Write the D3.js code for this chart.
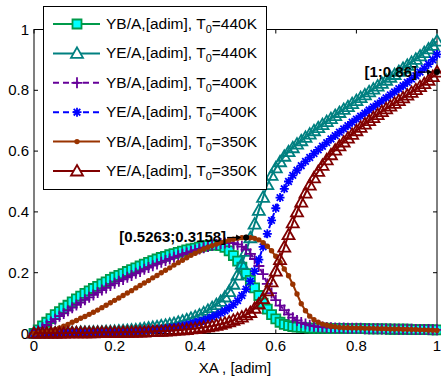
<!DOCTYPE html>
<html>
<head>
<meta charset="utf-8">
<title>YB / YE vs XA</title>
<script src="https://cdn.jsdelivr.net/npm/d3@7"></script>
<style>
  body { margin: 0; background: #fff; }
  text { font-family: "Liberation Sans", Arial, sans-serif; }
</style>
</head>
<body>
<script>
// conversion grid, 96 samples from 0 to 1
var xa = d3.range(96).map(function(i) { return i / 95; });

var ybA440 = [0,.012,.025,.037,.049,.062,.072,.083,.093,.104,.114,.123,.132,.140,.148,.155,.163,.170,.178,.185,
  .191,.197,.204,.210,.216,.222,.228,.234,.240,.245,.250,.254,.259,.263,.267,.271,.275,.278,.281,.284,
  .287,.289,.291,.291,.289,.283,.272,.256,.238,.218,.197,.175,.150,.125,.100,.080,.062,.048,.037,.030,
  .026,.023,.021,.020,.019,.018,.018,.018,.018,.018,.017,.017,.017,.017,.016,.016,.016,.016,.016,.015,
  .015,.015,.015,.015,.014,.014,.014,.014,.014,.013,.013,.013,.013,.013,.012,.012];

var yeA440 = [.002,.002,.002,.002,.002,.002,.003,.003,.003,.003,.003,.004,.004,.004,.005,.005,.005,.006,.006,.007,
  .008,.009,.010,.011,.012,.014,.016,.018,.020,.022,.025,.027,.030,.033,.037,.041,.045,.050,.055,.061,
  .068,.076,.085,.095,.106,.120,.138,.162,.192,.228,.270,.315,.360,.405,.448,.490,.520,.545,.565,.583,
  .598,.611,.623,.634,.645,.656,.667,.677,.687,.697,.707,.717,.727,.737,.746,.756,.766,.776,.785,.795,
  .804,.814,.823,.833,.843,.852,.862,.872,.882,.892,.902,.913,.924,.936,.948,.962];

var ybA400 = [0,.009,.019,.028,.038,.047,.057,.066,.075,.085,.094,.102,.111,.119,.127,.135,.143,.150,.158,.165,
  .172,.178,.185,.191,.198,.204,.211,.217,.223,.229,.234,.240,.245,.251,.256,.261,.265,.270,.274,.278,
  .282,.286,.290,.293,.296,.298,.299,.297,.293,.286,.276,.262,.245,.222,.195,.163,.133,.110,.092,.077,
  .063,.052,.043,.036,.031,.027,.024,.022,.021,.020,.019,.018,.018,.018,.017,.017,.017,.017,.016,.016,
  .016,.016,.015,.015,.015,.015,.014,.014,.014,.014,.013,.013,.013,.013,.012,.012];

var yeA400 = [.001,.001,.001,.001,.001,.001,.001,.002,.002,.002,.002,.002,.003,.003,.003,.003,.004,.004,.004,.005,
  .005,.006,.006,.007,.008,.009,.010,.011,.012,.013,.014,.016,.018,.020,.022,.025,.028,.031,.035,.039,
  .043,.048,.054,.060,.067,.075,.084,.095,.108,.125,.146,.172,.205,.243,.285,.328,.372,.412,.447,.476,
  .500,.520,.537,.552,.566,.579,.592,.604,.616,.628,.640,.651,.662,.673,.684,.695,.705,.715,.725,.735,
  .745,.755,.765,.775,.785,.795,.805,.815,.826,.837,.848,.860,.872,.886,.900,.918];

var ybA350 = [0,.002,.004,.007,.010,.013,.018,.024,.030,.037,.043,.050,.056,.063,.070,.077,.085,.093,.101,.109,
  .117,.125,.133,.141,.150,.158,.166,.174,.183,.191,.200,.208,.216,.225,.233,.241,.249,.257,.264,.271,
  .278,.284,.289,.294,.299,.303,.307,.310,.313,.315,.3158,.315,.313,.308,.299,.287,.272,.254,.234,.212,
  .190,.162,.130,.098,.075,.057,.045,.037,.031,.027,.024,.022,.020,.019,.019,.018,.018,.018,.017,.017,
  .017,.016,.016,.016,.015,.015,.015,.014,.014,.013,.013,.012,.012,.011,.011,.010];

var yeA350 = [.001,.001,.001,.001,.001,.001,.001,.001,.002,.002,.002,.002,.002,.002,.002,.003,.003,.003,.003,.003,
  .003,.004,.004,.004,.005,.005,.005,.006,.006,.007,.007,.008,.009,.010,.011,.012,.013,.015,.016,.018,
  .020,.022,.024,.027,.030,.034,.038,.043,.048,.054,.061,.069,.083,.097,.115,.140,.170,.205,.243,.284,
  .325,.364,.400,.432,.462,.488,.512,.533,.553,.571,.588,.603,.617,.630,.643,.655,.667,.678,.689,.700,
  .710,.720,.730,.739,.748,.757,.766,.775,.784,.793,.802,.812,.822,.833,.845,.860];

var seriesNames = ["YB/A,[adim], T", "YE/A,[adim], T", "YB/A,[adim], T", "YE/A,[adim], T", "YB/A,[adim], T", "YE/A,[adim], T"];
var seriesTemps = ["=440K", "=440K", "=400K", "=400K", "=350K", "=350K"];
var xTicks = [0, 0.2, 0.4, 0.6, 0.8, 1];
var yTicks = [0, 0.2, 0.4, 0.6, 0.8, 1];
var tickLabels = ["0", "0.2", "0.4", "0.6", "0.8", "1"];
var tipX = [0.5263, 1];
var tipY = [0.3158, 0.86];
var tipLabels = ["[0.5263;0.3158]", "[1;0.86]"];

var width = 441, height = 380;
var svg = d3.select('body').append('svg')
    .attr('width', width)
    .attr('height', height)
    .style('background', '#fff');

var x = d3.scaleLinear().domain([0, 1]).range([34, 437]);
var y = d3.scaleLinear().domain([0, 1]).range([333.5, 29.5]);

// style per series
var styles = [
    { data: ybA440, color: '#009a4a', dash: null,  marker: 'square',   fill: '#00ffff' },
    { data: yeA440, color: '#008080', dash: null,  marker: 'triangle', fill: 'none' },
    { data: ybA400, color: '#660099', dash: '6,4', marker: 'plus',     fill: 'none' },
    { data: yeA400, color: '#0000ff', dash: '6,4', marker: 'star',     fill: 'none' },
    { data: ybA350, color: '#993300', dash: null,  marker: 'dot',      fill: '#993300' },
    { data: yeA350, color: '#800000', dash: null,  marker: 'triangle', fill: 'none' }
];

function markerPath(type) {
    if (type === 'square') return 'M-4.5,-4.5H4.5V4.5H-4.5Z';
    if (type === 'triangle') return 'M0,-6L6,4.5L-6,4.5Z';
    if (type === 'plus') return 'M-5.5,0H5.5M0,-5.5V5.5';
    if (type === 'star') return 'M-4.5,0H4.5M0,-4.5V4.5M-3.3,-3.3L3.3,3.3M-3.3,3.3L3.3,-3.3';
    return 'M-2.7,0A2.7,2.7 0 1,0 2.7,0A2.7,2.7 0 1,0 -2.7,0Z';
}

// frame
svg.append('rect')
    .attr('x', 34).attr('y', 29.5)
    .attr('width', 403).attr('height', 304)
    .attr('fill', 'none').attr('stroke', '#000').attr('stroke-width', 1);

// inward ticks on all sides
var tickG = svg.append('g').attr('stroke', '#000').attr('stroke-width', 1);
xTicks.forEach(function(t) {
    tickG.append('line').attr('x1', x(t)).attr('x2', x(t)).attr('y1', 333.5).attr('y2', 329.5);
    tickG.append('line').attr('x1', x(t)).attr('x2', x(t)).attr('y1', 29.5).attr('y2', 33.5);
});
yTicks.forEach(function(t) {
    tickG.append('line').attr('x1', 34).attr('x2', 38).attr('y1', y(t)).attr('y2', y(t));
    tickG.append('line').attr('x1', 437).attr('x2', 433).attr('y1', y(t)).attr('y2', y(t));
});

svg.append('g').selectAll('text').data(xTicks).enter().append('text')
    .attr('x', function(d) { return x(d); })
    .attr('y', 351)
    .attr('text-anchor', 'middle')
    .style('font-size', '15px')
    .text(function(d, i) { return tickLabels[i]; });

svg.append('g').selectAll('text').data(yTicks).enter().append('text')
    .attr('x', 29)
    .attr('y', function(d) { return y(d) + 5; })
    .attr('text-anchor', 'end')
    .style('font-size', '15px')
    .text(function(d, i) { return tickLabels[i]; });

svg.append('text')
    .attr('x', 235).attr('y', 373)
    .attr('text-anchor', 'middle')
    .style('font-size', '15px')
    .text('XA , [adim]');

// series
var line = d3.line()
    .x(function(d, i) { return x(xa[i]); })
    .y(function(d) { return y(d); });

styles.forEach(function(s) {
    var g = svg.append('g');
    g.append('path')
        .attr('d', line(s.data))
        .attr('fill', 'none')
        .attr('stroke', s.color)
        .attr('stroke-width', 2)
        .attr('stroke-dasharray', s.dash);
    g.selectAll('.m').data(s.data).enter().append('path')
        .attr('transform', function(d, i) { return 'translate(' + x(xa[i]) + ',' + y(d) + ')'; })
        .attr('d', markerPath(s.marker))
        .attr('fill', s.fill)
        .attr('stroke', s.color)
        .attr('stroke-width', s.marker === 'dot' ? 0 : 1.8);
});

// data tips
tipX.forEach(function(tx, i) {
    var px = x(tx), py = y(tipY[i]);
    svg.append('text')
        .attr('x', px - 20).attr('y', py + 5)
        .attr('text-anchor', 'end')
        .style('font-size', '15px')
        .style('font-weight', 'bold')
        .text(tipLabels[i]);
    svg.append('line')
        .attr('x1', px - 19).attr('x2', px - 6)
        .attr('y1', py).attr('y2', py)
        .attr('stroke', '#000').attr('stroke-width', 1.2);
    svg.append('path')
        .attr('d', 'M' + (px - 5) + ',' + py + 'l-5,-3v6z')
        .attr('fill', '#000');
    svg.append('circle')
        .attr('cx', px).attr('cy', py).attr('r', 3)
        .attr('fill', '#000');
});

// legend
var leg = svg.append('g');
leg.append('rect')
    .attr('x', 43.5).attr('y', 6.5)
    .attr('width', 223).attr('height', 183)
    .attr('fill', '#fff').attr('stroke', '#000').attr('stroke-width', 1);

styles.forEach(function(s, i) {
    var ly = 24 + i * 29.4;
    leg.append('line')
        .attr('x1', 53).attr('x2', 100)
        .attr('y1', ly).attr('y2', ly)
        .attr('stroke', s.color).attr('stroke-width', 2)
        .attr('stroke-dasharray', s.dash);
    leg.append('path')
        .attr('transform', 'translate(77,' + ly + ')')
        .attr('d', markerPath(s.marker))
        .attr('fill', s.marker === 'triangle' ? '#fff' : s.fill)
        .attr('stroke', s.color)
        .attr('stroke-width', s.marker === 'dot' ? 0 : 1.8);
    var t = leg.append('text')
        .attr('x', 106).attr('y', ly + 5)
        .style('font-size', '15.5px');
    t.append('tspan').text(seriesNames[i]);
    t.append('tspan').attr('dy', 4).style('font-size', '11px').text('0');
    t.append('tspan').attr('dy', -4).text(seriesTemps[i]);
});
</script>
</body>
</html>
